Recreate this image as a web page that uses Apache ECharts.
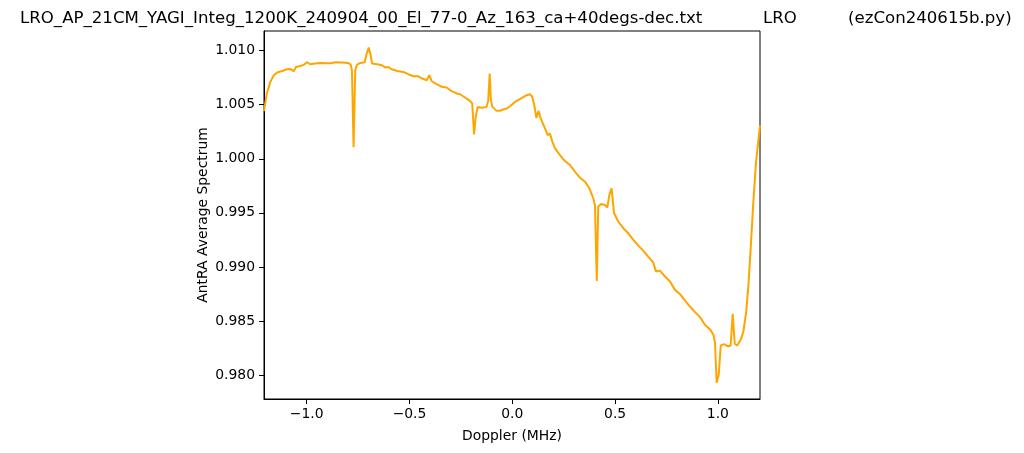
<!DOCTYPE html>
<html>
<head>
<meta charset="utf-8">
<script src="https://cdn.jsdelivr.net/npm/echarts@6/dist/echarts.min.js"></script>
<style>html,body{margin:0;padding:0;background:#fff;}#c{width:1024px;height:453px;}</style>
</head>
<body>
<div id="c"></div>
<script>
const titleFile = "LRO_AP_21CM_YAGI_Integ_1200K_240904_00_El_77-0_Az_163_ca+40degs-dec.txt";
const titleObj = "LRO";
const titleProg = "(ezCon240615b.py)";
const xLabel = "Doppler (MHz)";
const yLabel = "AntRA Average Spectrum";
const xTicks = [-1.0, -0.5, 0.0, 0.5, 1.0];
const yTicks = [0.980, 0.985, 0.990, 0.995, 1.000, 1.005, 1.010];
const xRange = [-1.2077, 1.2048];
const yRange = [0.97779, 1.011815];
const doppler = [
-1.2077,-1.194,-1.177,-1.160,-1.144,-1.120,-1.096,-1.080,-1.063,-1.052,-1.031,-1.015,-0.999,-0.983,-0.959,-0.934,-0.910,-0.885,-0.861,-0.828,-0.799,-0.786,-0.780,-0.772,-0.764,-0.755,-0.739,-0.718,-0.708,-0.698,-0.689,-0.682,-0.658,-0.634,-0.619,-0.603,-0.587,-0.554,-0.530,-0.506,-0.481,-0.457,-0.438,-0.416,-0.404,-0.392,-0.368,-0.343,-0.319,-0.295,-0.270,-0.254,-0.230,-0.206,-0.195,-0.186,-0.178,-0.168,-0.149,-0.125,-0.117,-0.110,-0.104,-0.097,-0.076,-0.060,-0.044,-0.027,-0.011,0.013,0.037,0.070,0.086,0.097,0.107,0.117,0.128,0.138,0.159,0.172,0.183,0.195,0.208,0.232,0.256,0.281,0.305,0.329,0.354,0.375,0.394,0.402,0.411,0.418,0.431,0.451,0.462,0.472,0.483,0.495,0.516,0.540,0.564,0.589,0.613,0.637,0.661,0.686,0.699,0.718,0.743,0.767,0.791,0.816,0.840,0.864,0.889,0.913,0.937,0.961,0.978,0.986,0.994,1.004,1.014,1.030,1.049,1.062,1.072,1.082,1.094,1.111,1.124,1.137,1.148,1.160,1.172,1.185,1.2048
];
const spectrum = [
1.0044,1.00604,1.00711,1.00773,1.00798,1.00812,1.00828,1.00831,1.0081,1.00849,1.00858,1.00868,1.00893,1.00874,1.0088,1.00886,1.00883,1.00883,1.00893,1.0089,1.00886,1.00871,1.00819,1.00107,1.00819,1.00871,1.00886,1.00893,1.00973,1.01028,1.00957,1.0088,1.00874,1.00865,1.00845,1.00849,1.00828,1.0081,1.00803,1.00782,1.00763,1.00763,1.00742,1.00726,1.00773,1.00717,1.0069,1.00665,1.00659,1.00625,1.00604,1.00597,1.00567,1.00535,1.00511,1.00225,1.00388,1.0048,1.00471,1.0048,1.00542,1.00788,1.00542,1.0048,1.00443,1.00443,1.00456,1.00465,1.00486,1.00526,1.00552,1.00588,1.00597,1.00572,1.00496,1.00378,1.00443,1.00373,1.00281,1.00219,1.00234,1.00157,1.00096,1.00034,0.99979,0.99942,0.9988,0.99825,0.99788,0.99727,0.99634,0.99573,0.98871,0.99557,0.99582,0.99573,0.99548,0.99665,0.99727,0.99496,0.99418,0.99358,0.99311,0.9925,0.99197,0.99151,0.99095,0.9904,0.98957,0.98966,0.98911,0.98865,0.98788,0.98748,0.98689,0.98634,0.98582,0.98536,0.98465,0.98425,0.98373,0.98296,0.9793,0.98003,0.98274,0.98287,0.98265,0.98274,0.98566,0.9829,0.98274,0.98326,0.98403,0.98573,0.98818,0.99188,0.99588,0.99958,1.0031
];

const FONT = "DejaVu Sans";
const chart = echarts.init(document.getElementById('c'), null, {renderer: 'canvas'});
const pts = doppler.map((d, i) => [d, spectrum[i]]);
const fmtX = v => { const s = Math.abs(v).toFixed(1); return (v < -1e-9 ? '\u2212' : '') + s; };
const tStyle = {fontFamily: FONT, fontSize: 16.6, fontWeight: 'normal', color: '#000'};
chart.setOption({
  animation: false,
  backgroundColor: '#ffffff',
  title: [
    {text: titleFile, left: 20, top: 10, padding: 0, textStyle: tStyle},
    {text: titleObj, left: 763, top: 10, padding: 0, textStyle: tStyle},
    {text: titleProg, left: 848, top: 10, padding: 0, textStyle: tStyle}
  ],
  grid: {left: 264, right: 264, top: 31, bottom: 54, show: true, borderColor: '#000', borderWidth: 1, backgroundColor: 'transparent'},
  xAxis: {
    type: 'value', min: xRange[0], max: xRange[1],
    name: xLabel, nameLocation: 'middle', nameGap: 30,
    nameTextStyle: {fontFamily: FONT, fontSize: 13.9, color: '#000'},
    axisLine: {show: true, onZero: false, lineStyle: {color: '#000', width: 1}},
    axisTick: {show: true, inside: false, length: 5, lineStyle: {color: '#000', width: 1}, customValues: xTicks},
    axisLabel: {fontFamily: FONT, fontSize: 13.9, color: '#000', margin: 8, customValues: xTicks, formatter: fmtX},
    splitLine: {show: false}
  },
  yAxis: {
    type: 'value', min: yRange[0], max: yRange[1],
    name: yLabel, nameLocation: 'middle', nameGap: 54, nameRotate: 90,
    nameTextStyle: {fontFamily: FONT, fontSize: 13.9, color: '#000'},
    axisLine: {show: true, onZero: false, lineStyle: {color: '#000', width: 1}},
    axisTick: {show: true, inside: false, length: 5, lineStyle: {color: '#000', width: 1}, customValues: yTicks},
    axisLabel: {fontFamily: FONT, fontSize: 13.9, color: '#000', margin: 9, customValues: yTicks, formatter: v => v.toFixed(3)},
    splitLine: {show: false}
  },
  series: [{
    type: 'line', data: pts, showSymbol: false, smooth: false, clip: true,
    lineStyle: {color: '#FFA500', width: 2}, itemStyle: {color: '#FFA500'}
  }]
});
</script>
</body>
</html>
